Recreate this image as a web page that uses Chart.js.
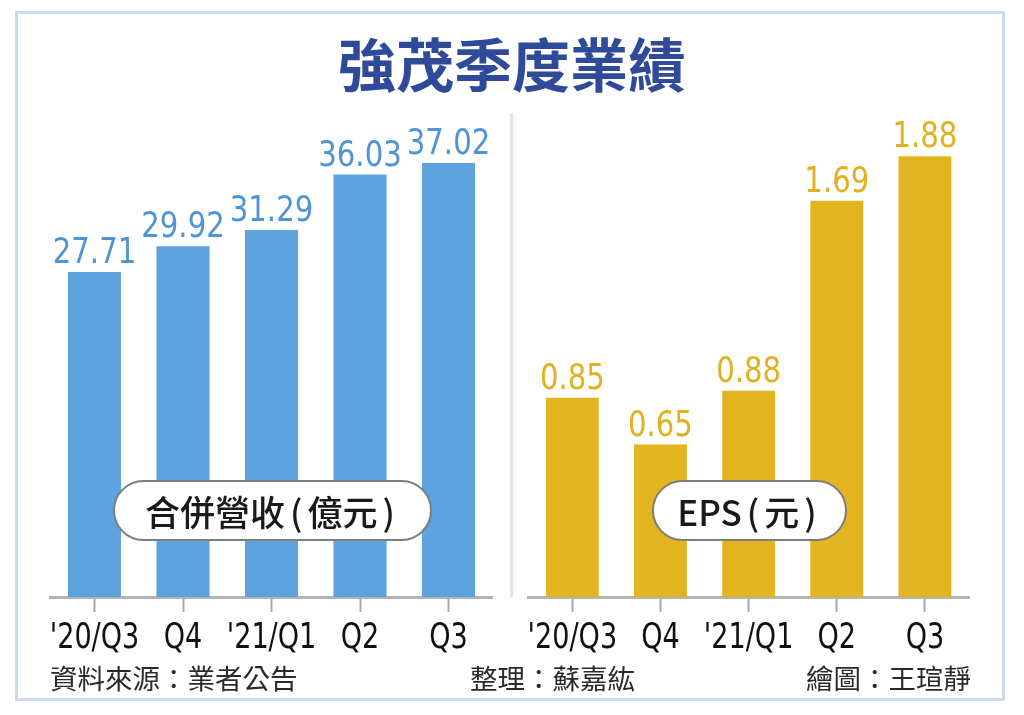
<!DOCTYPE html>
<html>
<head>
<meta charset="utf-8">
<script src="https://cdn.jsdelivr.net/npm/chart.js@4.4.0/dist/chart.umd.min.js"></script>
<style>
html,body{margin:0;padding:0;background:#fff;}
#wrap{position:relative;width:1024px;height:715px;overflow:hidden;background:#fff;}
canvas{position:absolute;left:0;top:0;}
.frame{position:absolute;left:15px;top:11px;width:990px;height:690px;box-sizing:border-box;border:3px solid #c9dcef;}
.title{position:absolute;left:0;top:33px;width:1024px;text-align:center;font-family:'Noto Sans CJK TC',sans-serif;font-weight:700;font-size:58px;line-height:58px;color:#2f4a98;}
.divider{position:absolute;left:510px;top:113px;width:3px;height:484px;background:#e4e4e4;box-shadow:2px 0 3px rgba(0,0,0,0.04);}
.pill{position:absolute;box-sizing:border-box;border:2px solid #7d7d7d;border-radius:31px;background:#fff;display:flex;align-items:center;justify-content:center;font-family:'Noto Sans CJK TC',sans-serif;font-weight:500;font-size:35px;color:#1a1a1a;line-height:1;}
.pill .p{margin:0 5px;}
.foot{position:absolute;top:664px;font-family:'Noto Sans CJK TC',sans-serif;font-size:27.5px;line-height:27px;color:#2a2a2a;white-space:nowrap;}
</style>
</head>
<body>
<div id="wrap">
  <div class="frame"></div>
  <div class="title">強茂季度業績</div>
  <div class="divider"></div>
  <canvas id="c1" width="1024" height="715"></canvas>
  <canvas id="c2" width="1024" height="715"></canvas>
  <div class="pill" style="left:113px;top:480px;width:319px;height:61px;">合併營收<span class="p">(</span>億元<span class="p">)</span></div>
  <div class="pill" style="left:652px;top:480px;width:195px;height:61px;">EPS<span class="p">(</span>元<span class="p">)</span></div>
  <div class="foot" style="left:50px;">資料來源：業者公告</div>
  <div class="foot" style="left:470px;">整理：蘇嘉紘</div>
  <div class="foot" style="right:53px;">繪圖：王瑄靜</div>
</div>
<script>
const categories = ["'20/Q3", "Q4", "'21/Q1", "Q2", "Q3"];
const revenue = [27.71, 29.92, 31.29, 36.03, 37.02];
const eps = [0.85, 0.65, 0.88, 1.69, 1.88];

const NUM_FONT = "'DejaVu Sans Condensed', 'Liberation Sans', sans-serif";

// value labels above bars + category labels under the x axis (horizontally condensed text)
const condensedText = {
  id: 'condensedText',
  afterDatasetsDraw(chart, args, opts) {
    const ctx = chart.ctx;
    const meta = chart.getDatasetMeta(0);
    const vals = chart.data.datasets[0].data;
    ctx.save();
    ctx.font = opts.valueSize + 'px ' + NUM_FONT;
    ctx.fillStyle = opts.valueColor;
    ctx.textAlign = 'center';
    ctx.textBaseline = 'alphabetic';
    meta.data.forEach((bar, i) => {
      ctx.save();
      ctx.translate(bar.x, bar.y - opts.gap);
      ctx.scale(opts.valueSqueeze, 1);
      ctx.fillText(vals[i].toFixed(2), 0, 0);
      ctx.restore();
    });
    const xs = chart.scales.x;
    ctx.font = opts.tickSize + 'px ' + NUM_FONT;
    ctx.fillStyle = opts.tickColor;
    xs.ticks.forEach((t, i) => {
      ctx.save();
      ctx.translate(xs.getPixelForTick(i), xs.top + opts.tickBaseline);
      ctx.scale(opts.tickSqueeze, 1);
      ctx.fillText(xs.getLabelForValue(t.value), 0, 0);
      ctx.restore();
    });
    ctx.restore();
  }
};

function makeChart(id, values, barColor, labelColor, maxY, padL, padR) {
  return new Chart(document.getElementById(id), {
    type: 'bar',
    data: {
      labels: categories,
      datasets: [{
        data: values,
        backgroundColor: barColor,
        borderWidth: 0,
        barPercentage: 0.6,
        categoryPercentage: 1.0
      }]
    },
    plugins: [condensedText],
    options: {
      responsive: false,
      animation: false,
      events: [],
      layout: { padding: { left: padL, right: padR, top: 128, bottom: 0 } },
      plugins: {
        legend: { display: false },
        tooltip: { enabled: false },
        condensedText: { valueColor: labelColor, valueSize: 36, gap: 9, valueSqueeze: 0.9, tickSize: 35, tickSqueeze: 0.86, tickColor: '#111111', tickBaseline: 51 }
      },
      scales: {
        x: {
          offset: true,
          grid: { display: true, drawOnChartArea: false, drawTicks: true, tickLength: 15, tickWidth: 2, tickColor: '#aaaaaa', offset: false },
          border: { display: true, color: '#b3b3b3', width: 3 },
          ticks: { display: false },
          afterFit(scale) { scale.height = 118; }
        },
        y: { display: false, min: 0, max: maxY }
      }
    }
  });
}

makeChart('c1', revenue, '#5ea3de', '#4f95d6', 40, 50.25, 531.25);
makeChart('c2', eps, '#e2b520', '#e2b122', 2, 528.25, 55);
</script>
</body>
</html>
